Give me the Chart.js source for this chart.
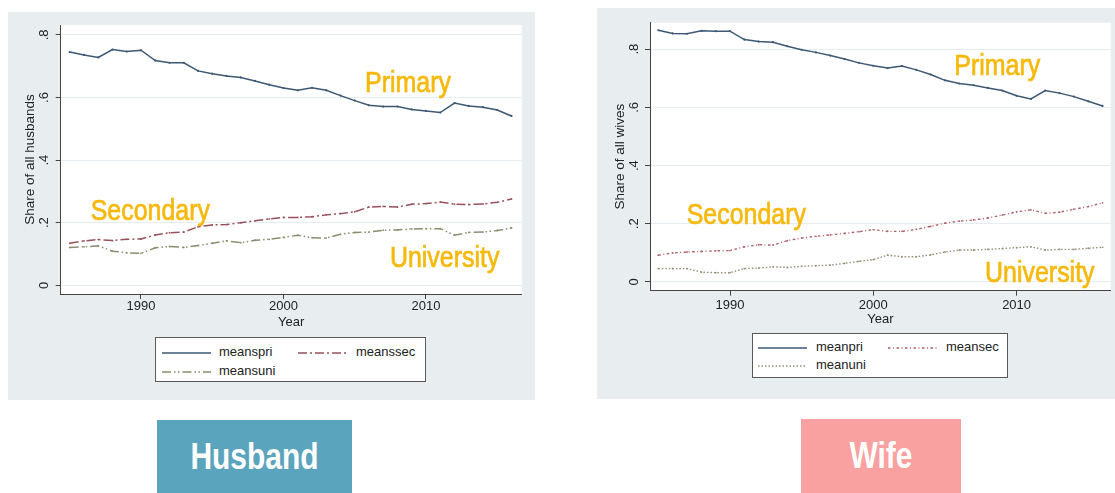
<!DOCTYPE html>
<html>
<head>
<meta charset="utf-8">
<script src="https://cdn.jsdelivr.net/npm/chart.js@4/dist/chart.umd.min.js"></script>
<style>
html,body{margin:0;padding:0;background:#fff;}
body{width:1115px;height:493px;position:relative;overflow:hidden;font-family:"Liberation Sans",Arial,sans-serif;}
.panel{position:absolute;background:#e8eef0;}
.panel canvas{position:absolute;left:0;top:0;}
.legend{position:absolute;background:#fff;border:1px solid #5a5a5a;box-sizing:border-box;font-size:13px;color:#222;}
.legend .txt{position:absolute;height:16px;line-height:16px;white-space:nowrap;}
.legend svg{position:absolute;overflow:visible;}
.tag{position:absolute;}
.tag div{position:absolute;left:0;width:100%;text-align:center;color:#fff;font-family:"Liberation Sans",Arial,sans-serif;font-weight:bold;font-size:37px;line-height:37px;transform:scaleX(0.81);transform-origin:50% 50%;}
</style>
</head>
<body>
<div class="panel" style="left:8px;top:12px;width:527px;height:388px"><canvas id="cH" width="527" height="388"></canvas></div>
<div class="panel" style="left:597px;top:8px;width:518px;height:391px"><canvas id="cW" width="518" height="391"></canvas></div>
<div class="legend" id="legH" style="left:155px;top:337px;width:271px;height:45px"></div>
<div class="legend" id="legW" style="left:752px;top:333px;width:256px;height:45px"></div>
<div class="tag" style="left:157px;top:420px;width:195px;height:73px;background:#5ba4bd"><div id="tagH" style="top:17.5px"></div></div>
<div class="tag" style="left:801px;top:419px;width:160px;height:74px;background:#f9a1a0"><div id="tagW" style="top:17.5px"></div></div>
<script>
// ---------------- data ----------------
const years = [1985,1986,1987,1988,1989,1990,1991,1992,1993,1994,1995,1996,1997,1998,1999,2000,
               2001,2002,2003,2004,2005,2006,2007,2008,2009,2010,2011,2012,2013,2014,2015,2016];

const husbandPrimary    = [0.745,0.736,0.728,0.753,0.747,0.751,0.718,0.711,0.711,0.685,0.676,0.669,0.664,0.653,0.641,0.630,
                           0.623,0.631,0.623,0.606,0.590,0.575,0.571,0.571,0.562,0.557,0.552,0.582,0.573,0.569,0.560,0.541];
const husbandSecondary  = [0.134,0.142,0.146,0.143,0.147,0.148,0.161,0.168,0.170,0.187,0.193,0.194,0.200,0.206,0.212,0.217,
                           0.217,0.219,0.225,0.229,0.235,0.250,0.252,0.250,0.259,0.261,0.266,0.259,0.258,0.260,0.265,0.276];
const husbandUniversity = [0.121,0.123,0.126,0.109,0.104,0.102,0.120,0.124,0.121,0.127,0.134,0.142,0.136,0.144,0.147,0.153,
                           0.160,0.152,0.151,0.163,0.169,0.170,0.176,0.177,0.180,0.181,0.181,0.160,0.169,0.170,0.175,0.183];

const wifePrimary       = [0.865,0.854,0.853,0.863,0.862,0.862,0.833,0.826,0.824,0.810,0.798,0.789,0.778,0.766,0.753,0.743,
                           0.735,0.742,0.729,0.713,0.693,0.682,0.676,0.667,0.658,0.640,0.629,0.658,0.649,0.637,0.621,0.605];
const wifeSecondary     = [0.092,0.100,0.103,0.105,0.107,0.108,0.121,0.128,0.127,0.142,0.151,0.157,0.162,0.167,0.173,0.180,
                           0.174,0.174,0.181,0.191,0.202,0.209,0.213,0.220,0.230,0.241,0.248,0.236,0.240,0.250,0.259,0.272];
const wifeUniversity    = [0.046,0.046,0.046,0.034,0.032,0.032,0.046,0.048,0.052,0.050,0.054,0.056,0.058,0.064,0.071,0.077,
                           0.092,0.087,0.087,0.093,0.103,0.110,0.110,0.112,0.115,0.118,0.121,0.110,0.112,0.112,0.116,0.119];

const xTickValues = [1990, 2000, 2010];
const xTickLabels = ['1990', '2000', '2010'];
const yTickValues = [0, 0.2, 0.4, 0.6, 0.8];
const yTickLabels = ['0', '.2', '.4', '.6', '.8'];

const husbandLegend = ['meanspri', 'meanssec', 'meansuni'];
const wifeLegend    = ['meanpri', 'meansec', 'meanuni'];
const seriesNames   = ['Primary', 'Secondary', 'University'];
const panelTitles   = ['Husband', 'Wife'];
const yTitles       = ['Share of all husbands', 'Share of all wives'];
const xTitle        = 'Year';

// ---------------- styles / layout ----------------
const FONT = '"Liberation Sans", Arial, sans-serif';
const NOTE_FONT = '29px "Liberation Sans", Arial, sans-serif';
const NOTE_SCALE_X = 0.86;

const husbandStyles = [
  {color:'#3c5873', dash:[], width:1.5},
  {color:'#98505a', dash:[9,3,2,3], width:1.5},
  {color:'#8c8c6e', dash:[9,3,1.5,2.5,1.5,3], width:1.5}
];
const wifeStyles = [
  {color:'#3c5873', dash:[], width:1.5},
  {color:'#b0606c', dash:[2.5,2.5,1,2.5], width:1.4},
  {color:'#948e74', dash:[1.5,2], width:1.4}
];

const stataPlugin = {
  id: 'stata',
  beforeDraw(chart) {
    const {ctx, chartArea: a} = chart;
    ctx.save();
    ctx.fillStyle = '#ffffff';
    ctx.fillRect(a.left, a.top, a.right - a.left, a.bottom - a.top);
    ctx.restore();
  },
  afterDraw(chart) {
    const o = chart.options.plugins.stata;
    const {ctx, chartArea: a} = chart;
    const xs = chart.scales.x, ys = chart.scales.y;
    ctx.save();
    ctx.font = '13px ' + FONT;
    ctx.fillStyle = '#222';
    ctx.textAlign = 'center';
    ctx.textBaseline = 'middle';
    yTickValues.forEach((v, i) => {
      ctx.save();
      ctx.translate(a.left - o.yLabelGap, ys.getPixelForValue(v));
      ctx.rotate(-Math.PI / 2);
      ctx.fillText(yTickLabels[i], 0, 0);
      ctx.restore();
    });
    ctx.font = NOTE_FONT;
    ctx.fillStyle = '#f6b80a';
    ctx.strokeStyle = '#f6b80a';
    ctx.lineWidth = 0.7;
    ctx.textAlign = 'left';
    ctx.textBaseline = 'alphabetic';
    o.notes.forEach((n, i) => {
      ctx.save();
      ctx.translate(xs.getPixelForValue(n[0]), ys.getPixelForValue(n[1]));
      ctx.scale(NOTE_SCALE_X, 1);
      ctx.fillText(seriesNames[i], 0, 0);
      ctx.strokeText(seriesNames[i], 0, 0);
      ctx.restore();
    });
    ctx.restore();
  }
};

function makeChart(id, series, styles, g) {
  const datasets = series.map((vals, i) => ({
    data: years.map((x, j) => ({x: x, y: vals[j]})),
    borderColor: styles[i].color,
    borderWidth: styles[i].width,
    borderDash: styles[i].dash,
    pointRadius: i === 0 ? 1.1 : 0.9,
    pointBorderWidth: 0,
    pointBackgroundColor: styles[i].color,
    tension: 0,
    fill: false
  }));
  return new Chart(document.getElementById(id), {
    type: 'line',
    data: {datasets},
    plugins: [stataPlugin],
    options: {
      responsive: false,
      animation: false,
      devicePixelRatio: 1,
      layout: {padding: g.padding},
      plugins: {
        legend: {display: false},
        tooltip: {enabled: false},
        stata: {notes: g.notes, yLabelGap: 16}
      },
      scales: {
        x: {
          type: 'linear',
          min: g.xMin, max: g.xMax,
          afterBuildTicks: s => { s.ticks = xTickValues.map(v => ({value: v})); },
          afterFit: s => { s.height = g.xHeight; },
          grid: {drawOnChartArea: false, drawTicks: true, tickLength: 5, tickColor: '#444', tickWidth: 1},
          border: {display: true, color: '#444', width: 1},
          ticks: {padding: g.xTickPad, autoSkip: false, maxRotation: 0, color: '#222',
                  font: {family: FONT, size: 13},
                  callback: (v, i) => xTickLabels[i]},
          title: {display: true, text: xTitle, color: '#222', font: {family: FONT, size: 13},
                  padding: {top: 0, bottom: 0}}
        },
        y: {
          min: g.yMin, max: g.yMax,
          afterBuildTicks: s => { s.ticks = yTickValues.map(v => ({value: v})); },
          afterFit: s => { s.width = g.yWidth; },
          grid: {color: '#e6edf0', lineWidth: 1, drawTicks: true, tickLength: 5, tickColor: '#444', tickWidth: 1},
          border: {display: true, color: '#444', width: 1},
          ticks: {display: false},
          title: {display: true, text: g.yTitle, color: '#222', font: {family: FONT, size: 13.5},
                  padding: {top: g.yTitlePad, bottom: 0}}
        }
      }
    }
  });
}

makeChart('cH', [husbandPrimary, husbandSecondary, husbandUniversity], husbandStyles, {
  padding: {left: 0, top: 13, right: 13.3, bottom: 69.6},
  xMin: 1984.365, xMax: 2016.716, yMin: -0.0278, yMax: 0.8316,
  xHeight: 36.4, yWidth: 52.7, xTickPad: 0, yTitlePad: 13.9, yTitle: yTitles[0],
  notes: [[2005.72, 0.6185], [1986.47, 0.2086], [2007.47, 0.0585]]
});
makeChart('cW', [wifePrimary, wifeSecondary, wifeUniversity], wifeStyles, {
  padding: {left: 0, top: 14.7, right: 4.3, bottom: 71.9},
  xMin: 1984.417, xMax: 2016.567, yMin: -0.0299, yMax: 0.891,
  xHeight: 36.4, yWidth: 53, xTickPad: 1.5, yTitlePad: 14.9, yTitle: yTitles[1],
  notes: [[2005.65, 0.711], [1986.98, 0.199], [2007.8, 0.001]]
});

// ---------------- legends (HTML) ----------------
function buildLegend(elId, names, styles, geo) {
  const el = document.getElementById(elId);
  names.forEach((name, i) => {
    const p = geo[i];
    const w = p.x2 - p.x1;
    const svgNS = 'http://www.w3.org/2000/svg';
    const svg = document.createElementNS(svgNS, 'svg');
    svg.setAttribute('width', w); svg.setAttribute('height', 4);
    svg.style.left = p.x1 + 'px'; svg.style.top = (p.cy - 2) + 'px';
    const ln = document.createElementNS(svgNS, 'line');
    ln.setAttribute('x1', 0); ln.setAttribute('x2', w);
    ln.setAttribute('y1', 2); ln.setAttribute('y2', 2);
    ln.setAttribute('stroke', styles[i].color);
    ln.setAttribute('stroke-width', styles[i].width);
    if (styles[i].dash.length) ln.setAttribute('stroke-dasharray', styles[i].dash.join(' '));
    svg.appendChild(ln);
    el.appendChild(svg);
    const t = document.createElement('div');
    t.className = 'txt';
    t.textContent = name;
    t.style.left = p.tx + 'px';
    t.style.top = (p.cy - 9) + 'px';
    el.appendChild(t);
  });
}
buildLegend('legH', husbandLegend, husbandStyles, [
  {x1: 6, x2: 55, tx: 63, cy: 15},
  {x1: 142, x2: 192, tx: 200, cy: 15},
  {x1: 6, x2: 55, tx: 63, cy: 34}
]);
buildLegend('legW', wifeLegend, wifeStyles, [
  {x1: 5, x2: 54, tx: 63, cy: 14},
  {x1: 135, x2: 186, tx: 193, cy: 14},
  {x1: 5, x2: 54, tx: 63, cy: 32}
]);
document.getElementById('tagH').textContent = panelTitles[0];
document.getElementById('tagW').textContent = panelTitles[1];
</script>
</body>
</html>
